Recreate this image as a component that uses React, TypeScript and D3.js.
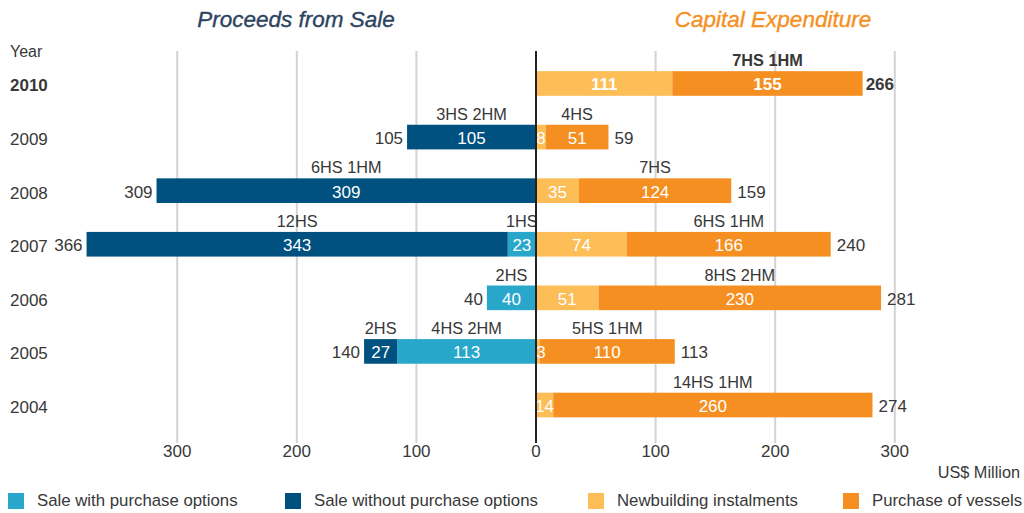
import React from "react";
import * as d3 from "d3";

// ---------- data ----------
const years = ["2010", "2009", "2008", "2007", "2006", "2005", "2004"];
const saleWithOptions = [0, 0, 0, 23, 40, 113, 0];
const saleWithoutOptions = [0, 105, 309, 343, 0, 27, 0];
const newbuilding = [111, 8, 35, 74, 51, 3, 14];
const purchase = [155, 51, 124, 166, 230, 110, 260];
const saleTotals = [0, 105, 309, 366, 40, 140, 0];
const capexTotals = [266, 59, 159, 240, 281, 113, 274];
const withOptionsVessels = ["", "", "", "1HS", "2HS", "4HS 2HM", ""];
const withoutOptionsVessels = ["", "3HS 2HM", "6HS 1HM", "12HS", "", "2HS", ""];
const purchaseVessels = ["7HS 1HM", "4HS", "7HS", "6HS 1HM", "8HS 2HM", "5HS 1HM", "14HS 1HM"];
const tickValues = [300, 200, 100, 0, 100, 200, 300];
const legendLabels = [
  "Sale with purchase options",
  "Sale without purchase options",
  "Newbuilding instalments",
  "Purchase of vessels",
];

// ---------- style ----------
const W = 1024;
const H = 513;
const ZERO = 536;
const C_LIGHTBLUE = "#28A7CB";
const C_NAVY = "#005180";
const C_LIGHTORANGE = "#FDBD57";
const C_ORANGE = "#F58F21";
const TEXT = "#383838";
const FONT = "'Liberation Sans', Arial, sans-serif";

export default function App() {
  const y = d3
    .scaleBand<string>()
    .domain(years)
    .range([56.7, 431.8])
    .paddingInner(0.54)
    .paddingOuter(0.27);
  const bw = y.bandwidth();

  // bar length scale and axis scale (the source draws bars slightly longer than grid)
  const barLen = d3.scaleLinear().domain([0, 300]).range([0, 368.4]);
  const axisLen = d3.scaleLinear().domain([0, 300]).range([0, 358.8]);

  const gridTop = 51;
  const gridBottom = 443;

  const leftTicks = [300, 200, 100];
  const rightTicks = [100, 200, 300];

  const legendX = [8, 285, 588, 843];
  const legendColors = [C_LIGHTBLUE, C_NAVY, C_LIGHTORANGE, C_ORANGE];

  return (
    <svg
      width={W}
      height={H}
      style={{ position: "absolute", left: 0, top: 0, background: "#fff" }}
      fontFamily={FONT}
    >
      {/* titles */}
      <text x={296} y={27} textAnchor="middle" fontSize={22.5} fontStyle="italic" fill="#2C4360" stroke="#2C4360" strokeWidth={0.35}>
        Proceeds from Sale
      </text>
      <text x={773} y={27} textAnchor="middle" fontSize={22.5} fontStyle="italic" fill={C_ORANGE} stroke={C_ORANGE} strokeWidth={0.35}>
        Capital Expenditure
      </text>
      <text x={10} y={57} fontSize={16} fill={TEXT}>
        Year
      </text>

      {/* grid lines */}
      {leftTicks.map((t, i) => (
        <line key={"gl" + i} x1={ZERO - axisLen(t)} x2={ZERO - axisLen(t)} y1={gridTop} y2={gridBottom} stroke="#d3d3d3" strokeWidth={2} />
      ))}
      {rightTicks.map((t, i) => (
        <line key={"gr" + i} x1={ZERO + axisLen(t)} x2={ZERO + axisLen(t)} y1={gridTop} y2={gridBottom} stroke="#d3d3d3" strokeWidth={2} />
      ))}

      {/* tick labels */}
      {tickValues.map((t, i) => {
        const x = i < 3 ? ZERO - axisLen(t) : ZERO + axisLen(t);
        return (
          <text key={"t" + i} x={x} y={457} textAnchor="middle" fontSize={17} fill={TEXT}>
            {t}
          </text>
        );
      })}
      <text x={1020} y={478} textAnchor="end" fontSize={16.3} fill={TEXT}>
        US$ Million
      </text>

      {/* rows */}
      {years.map((yr, i) => {
        const top = y(yr) as number;
        const cy = top + bw / 2;
        const bold = i === 0;
        const fw = bold ? "bold" : "normal";
        const items: React.ReactNode[] = [];

        // left side: with options (inner), without options (outer)
        const w1 = barLen(saleWithOptions[i]);
        const w2 = barLen(saleWithoutOptions[i]);
        if (saleWithOptions[i] > 0) {
          items.push(<rect key="lb" x={ZERO - w1} y={top} width={w1} height={bw} fill={C_LIGHTBLUE} />);
        }
        if (saleWithoutOptions[i] > 0) {
          items.push(<rect key="nv" x={ZERO - w1 - w2} y={top} width={w2} height={bw} fill={C_NAVY} />);
        }
        // right side: newbuilding (inner), purchase (outer)
        const w3 = barLen(newbuilding[i]);
        const w4 = barLen(purchase[i]);
        items.push(<rect key="lo" x={ZERO} y={top} width={w3} height={bw} fill={C_LIGHTORANGE} />);
        items.push(<rect key="or" x={ZERO + w3} y={top} width={w4} height={bw} fill={C_ORANGE} />);

        // inside labels
        const inside = (key: string, val: number, x0: number, w: number) => {
          if (val <= 0) return null;
          const cx = Math.max(x0 + w / 2, x0 + 5);
          return (
            <text key={key} x={cx} y={cy + 7} textAnchor="middle" fontSize={17} fontWeight={fw} fill="#fff">
              {val}
            </text>
          );
        };
        items.push(inside("ilb", saleWithOptions[i], ZERO - w1, w1));
        items.push(inside("inv", saleWithoutOptions[i], ZERO - w1 - w2, w2));
        items.push(inside("ilo", newbuilding[i], ZERO, w3));
        items.push(inside("ior", purchase[i], ZERO + w3, w4));

        // vessel labels above segments
        const above = (key: string, label: string, cx: number) =>
          label ? (
            <text key={key} x={cx} y={top - 5} textAnchor="middle" fontSize={16.3} fontWeight={fw} fill={TEXT}>
              {label}
            </text>
          ) : null;
        items.push(above("alb", withOptionsVessels[i], ZERO - w1 / 2));
        items.push(above("anv", withoutOptionsVessels[i], ZERO - w1 - w2 / 2));
        items.push(above("aor", purchaseVessels[i], ZERO + w3 + w4 / 2));

        // totals
        if (saleTotals[i] > 0) {
          items.push(
            <text key="ts" x={ZERO - barLen(saleTotals[i]) - 4} y={cy + 7} textAnchor="end" fontSize={17} fontWeight={fw} fill={TEXT}>
              {saleTotals[i]}
            </text>
          );
        }
        items.push(
          <text key="tc" x={ZERO + barLen(capexTotals[i]) + (bold ? 3 : 6)} y={cy + 7} textAnchor="start" fontSize={17} fontWeight={fw} fill={TEXT}>
            {capexTotals[i]}
          </text>
        );

        // year label
        items.push(
          <text key="yr" x={10} y={cy + 8} fontSize={17} fontWeight={fw} fill={TEXT}>
            {yr}
          </text>
        );

        return <g key={yr}>{items}</g>;
      })}

      {/* zero axis */}
      <line x1={ZERO} x2={ZERO} y1={gridTop} y2={gridBottom} stroke="#222" strokeWidth={2} />

      {/* legend */}
      {legendLabels.map((l, i) => (
        <g key={"lg" + i}>
          <rect x={legendX[i]} y={493} width={16} height={16} fill={legendColors[i]} />
          <text x={legendX[i] + 29} y={506} fontSize={16.8} fill={TEXT}>
            {l}
          </text>
        </g>
      ))}
    </svg>
  );
}
